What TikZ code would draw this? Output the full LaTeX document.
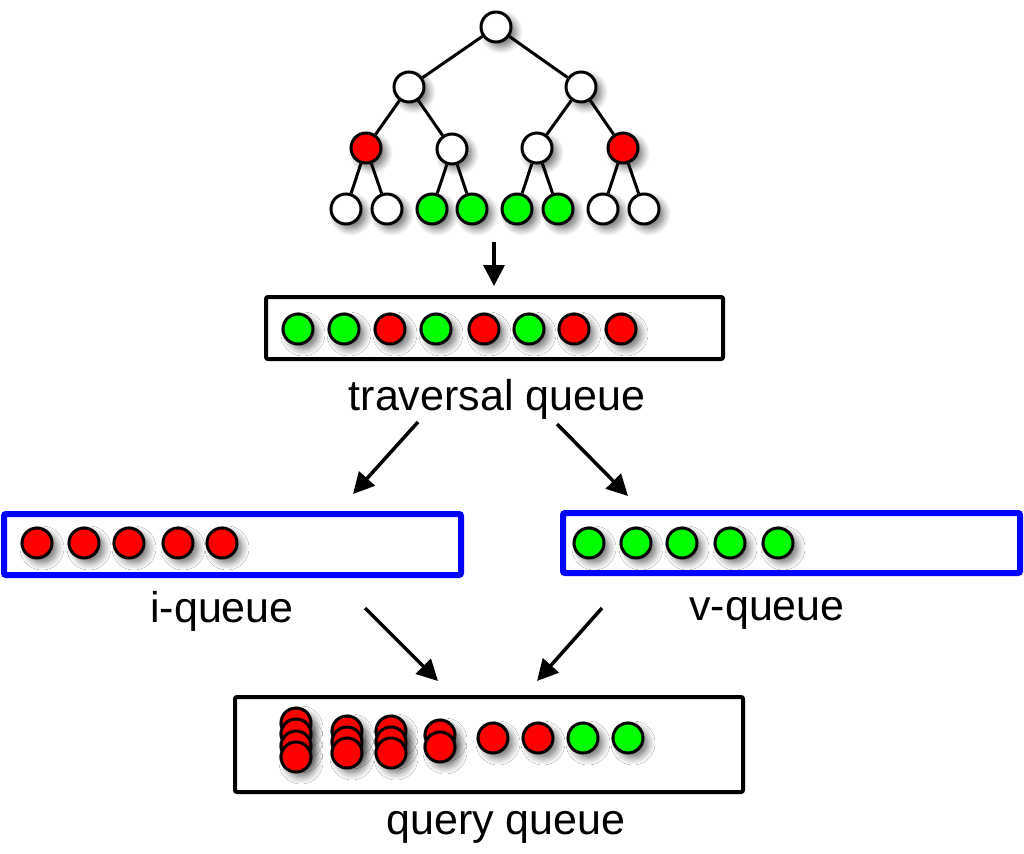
\documentclass[tikz,border=0pt]{standalone}
\usepackage{fontspec}
\setmainfont{Liberation Sans}
\usetikzlibrary{arrows.meta,shadows.blur}
\definecolor{qred}{RGB}{255,0,0}
\definecolor{qgreen}{RGB}{0,255,0}
\definecolor{qblue}{RGB}{0,0,255}
\begin{document}
\begin{tikzpicture}[x=1pt,y=-1pt,
  ball/.style={circle,draw=black,line width=3pt,minimum size=30pt,inner sep=0pt,
    blur shadow={shadow xshift=5pt,shadow yshift=-5pt,shadow blur radius=7pt,shadow blur steps=8,shadow opacity=55}},
  rb/.style={ball,fill=qred},
  gb/.style={ball,fill=qgreen},
  wb/.style={ball,fill=white},
  edge/.style={line width=3pt,draw=black},
  arr/.style={line width=3.5pt,draw=black,-{Triangle[width=21pt,length=21pt]}},
  qbox/.style={draw=black,fill=white,line width=4pt,rounded corners=2pt,inner sep=0pt,outer sep=0pt},
  bbox/.style={draw=qblue,fill=white,line width=6pt,rounded corners=2pt,inner sep=0pt,outer sep=0pt},
  lbl/.style={font=\fontsize{43}{50}\selectfont,anchor=base,inner sep=0pt}]
\useasboundingbox (0,0) rectangle (1024,853);

% boxes
\node[qbox,minimum width=457pt,minimum height=62pt] (tbox) at (494.5,328) {};
\node[bbox,minimum width=457pt,minimum height=61pt] (ibox) at (232.5,544.5) {};
\node[bbox,minimum width=457pt,minimum height=60pt] (vbox) at (791.5,543) {};
\node[qbox,minimum width=508pt,minimum height=95pt] (qbx) at (489,744.5) {};

% tree
\node[wb] (t1) at (496,27) {};
\node[wb] (t2) at (409,87) {};
\node[wb] (t3) at (581,87) {};
\node[rb] (t4) at (366,148) {};
\node[wb] (t5) at (452,149) {};
\node[wb] (t6) at (537,148) {};
\node[rb] (t7) at (623,148) {};
\foreach \x/\c [count=\i] in {346/white,387/white,432/qgreen,472/qgreen,517/qgreen,558/qgreen,603/white,644/white}
  \node[ball,fill=\c] (l\i) at (\x,209) {};
\foreach \a/\b in {t1/t2,t1/t3,t2/t4,t2/t5,t3/t6,t3/t7,t4/l1,t4/l2,t5/l3,t5/l4,t6/l5,t6/l6,t7/l7,t7/l8}
  \draw[edge] (\a) -- (\b);

% traversal queue
\foreach \x/\c [count=\i] in {298/qgreen,344/qgreen,390/qred,436/qgreen,484/qred,529/qgreen,574/qred,621/qred}
  \node[ball,fill=\c] (tq\i) at (\x,329) {};
% i-queue
\foreach \x [count=\i] in {37,84,129,178,222}
  \node[rb] (iq\i) at (\x,543) {};
% v-queue
\foreach \x [count=\i] in {589,636,682,730,778}
  \node[gb] (vq\i) at (\x,543) {};
% query queue stacks
\foreach \y [count=\i] in {723,734,746,757}
  \node[rb] (qa\i) at (296,\y) {};
\foreach \y [count=\i] in {731,742,753}
  \node[rb] (qb\i) at (347,\y) {};
\foreach \y [count=\i] in {731,742,753}
  \node[rb] (qc\i) at (391,\y) {};
\foreach \y [count=\i] in {735,747}
  \node[rb] (qd\i) at (440,\y) {};
\foreach \x/\c [count=\i] in {493/qred,538/qred,583/qgreen,628/qgreen}
  \node[ball,fill=\c] (qs\i) at (\x,738) {};

% labels
\node[lbl] (lt) at (497,410) {traversal queue};
\node[lbl] (li) at (222,622) {i-queue};
\node[lbl] (lv) at (767,620) {v-queue};
\node[lbl] (lq) at (506,834) {query queue};

% arrows
\coordinate (a0s) at (494,242); \coordinate (a0e) at (494,286);
\coordinate (a1s) at (418,422); \coordinate (a1e) at (353,494);
\coordinate (a2s) at (557,424); \coordinate (a2e) at (628,496);
\coordinate (a3s) at (365,608); \coordinate (a3e) at (438,681);
\coordinate (a4s) at (602,608); \coordinate (a4e) at (537,681);
\draw[arr] (a0s) -- (a0e);
\draw[arr] (a1s) -- (a1e);
\draw[arr] (a2s) -- (a2e);
\draw[arr] (a3s) -- (a3e);
\draw[arr] (a4s) -- (a4e);
\end{tikzpicture}
\end{document}
